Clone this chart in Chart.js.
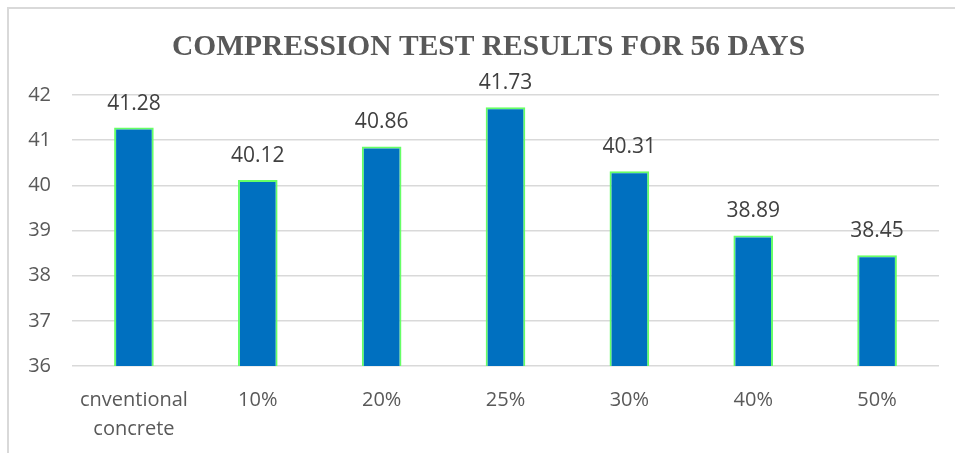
<!DOCTYPE html>
<html><head><meta charset="utf-8">
<script src="https://cdn.jsdelivr.net/npm/chart.js@4/dist/chart.umd.min.js"></script>
<style>
html,body{margin:0;padding:0;background:#fff;overflow:hidden;}
#wrap{position:relative;width:955px;height:453px;}
#frame{position:absolute;left:7px;top:7px;width:980px;height:480px;border:2px solid #d9d9d9;box-sizing:border-box;}
canvas{position:absolute;left:0;top:0;}
</style></head>
<body><div id="wrap"><div id="frame"></div><canvas id="c" width="955" height="453"></canvas></div>
<script>
const categories = [["cnventional","concrete"], "10%", "20%", "25%", "30%", "40%", "50%"];
const strengths = [41.28, 40.12, 40.86, 41.73, 40.31, 38.89, 38.45];
const yTicks = [36, 37, 38, 39, 40, 41, 42];
const titleText = "COMPRESSION TEST RESULTS FOR 56 DAYS";

const valueLabels = {
  id: 'valueLabels',
  afterDatasetsDraw(chart) {
    const ctx = chart.ctx;
    const meta = chart.getDatasetMeta(0);
    ctx.save();
    ctx.font = '21px "Open Sans", "Liberation Sans", sans-serif';
    ctx.fillStyle = '#404040';
    ctx.textAlign = 'center';
    ctx.textBaseline = 'middle';
    meta.data.forEach((bar, i) => {
      ctx.fillText(strengths[i].toFixed(2), bar.x, bar.y - 24);
    });
    ctx.restore();
  }
};

const titleDraw = {
  id: 'titleDraw',
  afterDraw(chart) {
    const ctx = chart.ctx;
    ctx.save();
    ctx.font = 'bold 29.5px "Liberation Serif", "Times New Roman", serif';
    ctx.fillStyle = '#595959';
    ctx.textAlign = 'center';
    ctx.textBaseline = 'middle';
    ctx.fillText(titleText, chart.chartArea.left + (chart.chartArea.right - chart.chartArea.left) / 2 - 17, chart.chartArea.top - 48);
    ctx.restore();
  }
};

new Chart(document.getElementById('c'), {
  type: 'bar',
  data: {
    labels: categories,
    datasets: [{
      data: strengths,
      backgroundColor: '#0070c0',
      borderColor: '#66ff66',
      borderWidth: 2,
      barPercentage: 0.32,
      categoryPercentage: 1.0
    }]
  },
  options: {
    responsive: false,
    animation: false,
    layout: { padding: { left: 20, right: 16, top: 95, bottom: 0 } },
    plugins: {
      legend: { display: false },
      tooltip: { enabled: false },
      title: { display: false }
    },
    scales: {
      y: {
        min: yTicks[0],
        max: yTicks[yTicks.length - 1],
        afterBuildTicks(s) { s.ticks = yTicks.map(v => ({ value: v })); },
        afterFit(s) { s.width = 52; },
        border: { display: false },
        grid: { color: '#d9d9d9', lineWidth: 1.5, drawTicks: false },
        ticks: { color: '#595959', padding: 21, font: { family: '"Open Sans", "Liberation Sans", sans-serif', size: 20 } }
      },
      x: {
        afterFit(s) { s.height = 87; },
        border: { display: false },
        grid: { display: false },
        ticks: { color: '#595959', padding: 12, maxRotation: 0, font: { family: '"Open Sans", "Liberation Sans", sans-serif', size: 20, lineHeight: 1.45 } }
      }
    }
  },
  plugins: [valueLabels, titleDraw]
});
</script></body></html>
